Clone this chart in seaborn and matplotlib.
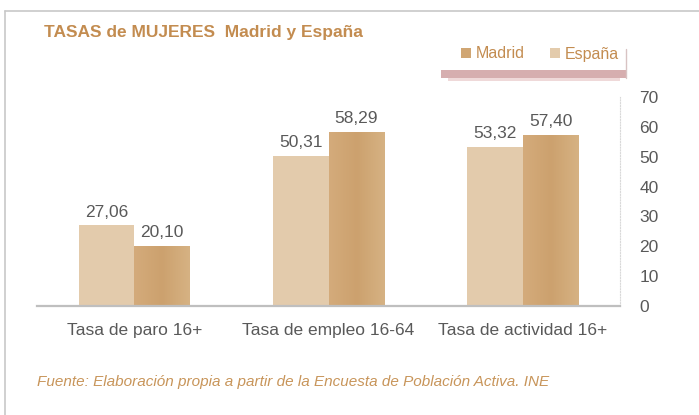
import pandas as pd
import numpy as np
import matplotlib
matplotlib.use("Agg")
import matplotlib.pyplot as plt
import seaborn as sns
from matplotlib.patches import Patch, Rectangle
from matplotlib.lines import Line2D
from matplotlib.colors import LinearSegmentedColormap

# --- Data ---
categories = ["Tasa de paro 16+", "Tasa de empleo 16-64", "Tasa de actividad 16+"]
espana = [27.06, 50.31, 53.32]
madrid = [20.10, 58.29, 57.40]
series_order = ["España", "Madrid"]
yticks = [0, 10, 20, 30, 40, 50, 60, 70]

df = pd.DataFrame({
    "categoria": categories * 2,
    "serie": ["España"] * 3 + ["Madrid"] * 3,
    "valor": espana + madrid,
})

# --- Style ---
sns.set_style("white")
plt.rcParams["font.family"] = ["Liberation Sans", "DejaVu Sans"]
col_esp = "#E3CBAC"
col_mad = "#D0A673"
col_title = "#C38C50"
col_text = "#595959"

fig = plt.figure(figsize=(6.99, 4.15), dpi=100)
ax = fig.add_axes([0.053, 0.263, 0.834, 0.503])

sns.barplot(data=df, x="categoria", y="valor", hue="serie", hue_order=series_order,
            palette=[col_esp, col_mad], width=0.572, gap=0, saturation=1,
            linewidth=0, legend=False, ax=ax)

# subtle horizontal gradient on the Madrid bars
grad = LinearSegmentedColormap.from_list("g", ["#D4AB7B", "#CCA16E", "#D6B283"])
for bar in ax.containers[1]:
    x0, y0 = bar.get_x(), bar.get_y()
    im = ax.imshow(np.linspace(0, 1, 64).reshape(1, -1), cmap=grad, aspect="auto",
                   extent=(x0, x0 + bar.get_width(), y0, y0 + bar.get_height()),
                   zorder=bar.get_zorder() + 0.1)
    im.set_clip_path(bar)

# value labels
for cont in ax.containers:
    ax.bar_label(cont, labels=[f"{v:.2f}".replace(".", ",") for v in cont.datavalues],
                 padding=4, fontsize=12.5, color=col_text)

ax.set_ylim(0, 70)
ax.set_xlim(-0.5, 2.5)
ax.set_yticks(yticks)
ax.yaxis.tick_right()
ax.tick_params(axis="y", length=0, pad=14, labelsize=12.5, labelcolor=col_text)
ax.tick_params(axis="x", which="major", length=0, pad=12, labelsize=12.5, labelcolor=col_text)
ax.set_xticks([-0.5, 0.5, 1.5, 2.5], minor=True)
ax.tick_params(axis="x", which="minor", length=5, color="#BFBFBF", width=1, direction="out")
ax.set_xlabel("")
ax.set_ylabel("")

for s in ["top", "left"]:
    ax.spines[s].set_visible(False)
ax.spines["bottom"].set_color("#BFBFBF")
ax.spines["bottom"].set_linewidth(1.6)
ax.spines["right"].set_color("#D9D9D9")
ax.spines["right"].set_linewidth(0.8)
ax.spines["right"].set_linestyle((0, (1, 1.5)))

# --- Frame lines of the panel ---
W, H = 699, 415
fig.add_artist(Line2D([5 / W, 5 / W], [0, 1 - 11 / H], color="#C8C8C8", lw=1.2))
fig.add_artist(Line2D([5 / W, 1], [1 - 11 / H, 1 - 11 / H], color="#C8C8C8", lw=1.2))

# --- Title ---
fig.text(44 / W, 1 - 32 / H, "TASAS de MUJERES  Madrid y España", fontsize=12.5,
         fontweight="bold", color=col_title, va="center", ha="left")

# --- Legend box with shadow ---
fig.add_artist(Rectangle((441 / W, 1 - 78 / H), 185 / W, 8 / H, transform=fig.transFigure,
                         facecolor="#D6AEAF", edgecolor="none"))
fig.add_artist(Rectangle((448 / W, 1 - 81 / H), 172 / W, 3 / H, transform=fig.transFigure,
                         facecolor="#EFD9D9", edgecolor="none"))
fig.add_artist(Line2D([626 / W, 626 / W], [1 - 78 / H, 1 - 49 / H], color="#D8C3C3", lw=1))

handles = [Patch(facecolor=col_mad, edgecolor="none", label="Madrid"),
           Patch(facecolor=col_esp, edgecolor="none", label="España")]
leg = fig.legend(handles=handles, loc="center", bbox_to_anchor=(540 / W, 1 - 54 / H),
                 ncol=2, frameon=False, handlelength=0.6, handleheight=0.6,
                 handletextpad=0.3, columnspacing=1.6, fontsize=11.5)
for t in leg.get_texts():
    t.set_color(col_title)

# --- Source note ---
fig.text(37 / W, 1 - 382 / H,
         "Fuente: Elaboración propia a partir de la Encuesta de Población Activa. INE",
         fontsize=11, style="italic", color="#C8955A", va="center", ha="left")

fig.savefig("out.png", dpi=100)
